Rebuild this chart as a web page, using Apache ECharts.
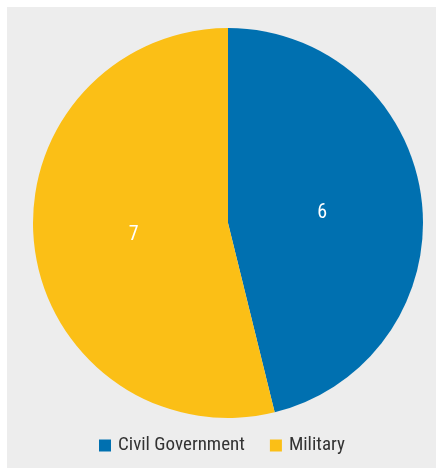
<!DOCTYPE html>
<html>
<head>
<meta charset="utf-8">
<script src="https://cdn.jsdelivr.net/npm/echarts@6/dist/echarts.min.js"></script>
<style>
  html, body { margin: 0; padding: 0; background: #ffffff; }
  #chart { width: 436px; height: 468px; }
</style>
</head>
<body>
<div id="chart"></div>
<script>
// Slice names, values and colours
const categories = ['Civil Government', 'Military'];
const values = [6, 7];
const colors = ['#0070b0', '#fbbf16'];

const chart = echarts.init(document.getElementById('chart'), null, { renderer: 'canvas' });
const fontFamily = '"Roboto Condensed", "DejaVu Sans Condensed", sans-serif';

const pieData = categories.map((name, i) => ({
  name,
  value: values[i],
  itemStyle: { color: colors[i] }
}));

// same values, transparent fill, only carrying the value labels
const labelData = categories.map((name, i) => ({
  name,
  value: values[i],
  itemStyle: { color: 'rgba(0,0,0,0)' }
}));

chart.setOption({
  backgroundColor: '#ffffff',
  animation: false,
  graphic: [{
    type: 'rect',
    z: -10,
    shape: { x: 7, y: 7, width: 429, height: 461 },
    style: { fill: '#ededed' }
  }],
  legend: {
    top: 436,
    left: 99,
    padding: 0,
    icon: 'rect',
    itemWidth: 12,
    itemHeight: 12,
    itemGap: 25,
    textStyle: {
      fontFamily,
      fontSize: 19,
      lineHeight: 18,
      color: '#333333',
      padding: [0, 0, 0, 2]
    },
    data: categories
  },
  series: [{
    // filled slices
    type: 'pie',
    center: [228, 223],
    radius: [0, 195],
    startAngle: 90,
    clockwise: true,
    label: { show: false },
    labelLine: { show: false },
    itemStyle: { borderWidth: 0 },
    emphasis: { disabled: true },
    silent: true,
    data: pieData
  }, {
    // value labels, placed about halfway out from the centre
    type: 'pie',
    center: [228, 224],
    radius: [0, 184],
    startAngle: 90,
    clockwise: true,
    legendHoverLink: false,
    label: {
      show: true,
      position: 'inside',
      formatter: '{c}',
      color: '#ffffff',
      fontFamily,
      fontSize: 20
    },
    labelLine: { show: false },
    itemStyle: { borderWidth: 0 },
    emphasis: { disabled: true },
    silent: true,
    data: labelData
  }]
});
</script>
</body>
</html>
